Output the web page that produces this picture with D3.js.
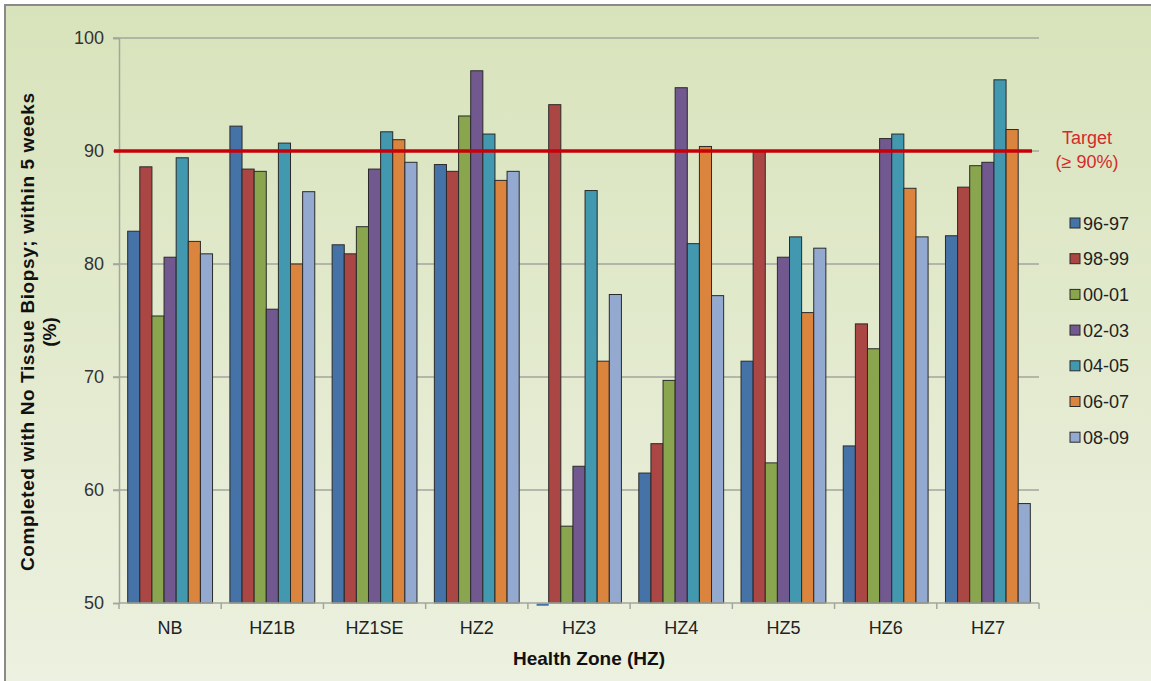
<!DOCTYPE html>
<html>
<head>
<meta charset="utf-8">
<script src="https://cdn.jsdelivr.net/npm/d3@7"></script>
<style>
  html, body { margin: 0; padding: 0; background: #ffffff; }
  svg { display: block; font-family: "Liberation Sans", Arial, sans-serif; }
</style>
</head>
<body>
<svg id="chart" width="1151" height="681"></svg>
<script>
// Health zones along the x axis
const zones = ["NB", "HZ1B", "HZ1SE", "HZ2", "HZ3", "HZ4", "HZ5", "HZ6", "HZ7"];

// Fiscal-year series (percent completed with no tissue biopsy within 5 weeks)
const periods = ["96-97", "98-99", "00-01", "02-03", "04-05", "06-07", "08-09"];
const fy9697 = [82.9, 92.2, 81.7, 88.8, 49.8, 61.5, 71.4, 63.9, 82.5];
const fy9899 = [88.6, 88.4, 80.9, 88.2, 94.1, 64.1, 90.0, 74.7, 86.8];
const fy0001 = [75.4, 88.2, 83.3, 93.1, 56.8, 69.7, 62.4, 72.5, 88.7];
const fy0203 = [80.6, 76.0, 88.4, 97.1, 62.1, 95.6, 80.6, 91.1, 89.0];
const fy0405 = [89.4, 90.7, 91.7, 91.5, 86.5, 81.8, 82.4, 91.5, 96.3];
const fy0607 = [82.0, 80.0, 91.0, 87.4, 71.4, 90.4, 75.7, 86.7, 91.9];
const fy0809 = [80.9, 86.4, 89.0, 88.2, 77.3, 77.2, 81.4, 82.4, 58.8];
const seriesValues = [fy9697, fy9899, fy0001, fy0203, fy0405, fy0607, fy0809];
const seriesColors = ["#4572A7", "#AA4643", "#89A54E", "#71588F", "#4198AF", "#DB843D", "#93A9CF"];

const yTicks = [50, 60, 70, 80, 90, 100];
const targetValue = 90;
const targetLabel = ["Target", "(\u2265 90%)"];
const yTitle = ["Completed with No Tissue Biopsy; within 5 weeks", "(%)"];
const xTitle = "Health Zone (HZ)";

const svg = d3.select("#chart");

// Background panel with soft vertical gradient
const defs = svg.append("defs");
const grad = defs.append("linearGradient").attr("id", "bg").attr("x1", 0).attr("y1", 0).attr("x2", 0).attr("y2", 1);
grad.append("stop").attr("offset", "0%").attr("stop-color", "#d8e3bb");
grad.append("stop").attr("offset", "100%").attr("stop-color", "#edf1e1");
svg.append("rect").attr("x", 5).attr("y", 5).attr("width", 1160).attr("height", 690)
  .attr("fill", "url(#bg)").attr("stroke", "#8a8a8a").attr("stroke-width", 2);

// Plot area
const plot = { left: 119, right: 1039, top: 38, bottom: 603 };

const y = d3.scaleLinear().domain([50, 100]).range([plot.bottom, plot.top]);
const x0 = d3.scaleBand().domain(zones).range([plot.left, plot.right])
  .paddingInner(0.17).paddingOuter(0.085);
const x1 = d3.scaleBand().domain(periods).range([0, x0.bandwidth()]);

// Horizontal gridlines
svg.append("g").selectAll("line").data(yTicks.filter(t => t > 50)).join("line")
  .attr("x1", plot.left - 6).attr("x2", plot.right)
  .attr("y1", d => y(d)).attr("y2", d => y(d))
  .attr("stroke", "#a3a69c").attr("stroke-width", 1.5);

// Y axis
const yAxis = svg.append("g").attr("transform", `translate(${plot.left},0)`)
  .call(d3.axisLeft(y).tickValues(yTicks).tickSize(6).tickPadding(9));
yAxis.select(".domain").attr("stroke", "#a3a69c").attr("stroke-width", 1.5);
yAxis.selectAll(".tick line").attr("stroke", "#a3a69c").attr("stroke-width", 1.5);
yAxis.selectAll(".tick text").attr("font-size", 18).attr("fill", "#333").attr("font-family", "Liberation Sans, Arial, sans-serif");

// Bars rising from the axis minimum
const groups = svg.append("g").selectAll("g").data(zones).join("g")
  .attr("transform", z => `translate(${x0(z)},0)`);
groups.selectAll("rect")
  .data((z, i) => periods.map((p, k) => ({ p, v: seriesValues[k][i], c: seriesColors[k] }))
    .filter(d => d.v >= 50))
  .join("rect")
  .attr("x", d => x1(d.p))
  .attr("width", x1.bandwidth())
  .attr("y", d => y(d.v))
  .attr("height", d => y(50) - y(d.v))
  .attr("fill", d => d.c)
  .attr("stroke", "#2a2a2a")
  .attr("stroke-width", 1);

// X axis baseline, boundary ticks and category labels
const step = x0.step();
const boundaries = zones.map(z => x0(z) - step * x0.paddingInner() / 2).concat([plot.right]);
svg.append("line").attr("x1", plot.left).attr("x2", plot.right)
  .attr("y1", plot.bottom).attr("y2", plot.bottom)
  .attr("stroke", "#a3a69c").attr("stroke-width", 1.5);
svg.append("g").selectAll("line").data(boundaries).join("line")
  .attr("x1", d => d).attr("x2", d => d)
  .attr("y1", plot.bottom).attr("y2", plot.bottom + 6)
  .attr("stroke", "#a3a69c").attr("stroke-width", 1.5);

const xAxis = svg.append("g").attr("transform", `translate(0,${plot.bottom})`)
  .call(d3.axisBottom(x0).tickSize(0).tickPadding(18));
xAxis.select(".domain").remove();
xAxis.selectAll(".tick text").attr("font-size", 18).attr("fill", "#222").attr("font-family", "Liberation Sans, Arial, sans-serif");

// Below-minimum bars hang just under the baseline, drawn over it
svg.append("g").selectAll("rect")
  .data(zones.flatMap((z, i) => periods.map((p, k) => ({ z, p, v: seriesValues[k][i], c: seriesColors[k] })))
    .filter(d => d.v < 50))
  .join("rect")
  .attr("x", d => x0(d.z) + x1(d.p))
  .attr("width", x1.bandwidth())
  .attr("y", y(50) + 0.75)
  .attr("height", d => Math.max(0, y(d.v) - y(50) - 0.75) + 0.5)
  .attr("fill", d => d.c);

// Target line
svg.append("line").attr("x1", plot.left - 5).attr("x2", plot.right - 7)
  .attr("y1", y(targetValue)).attr("y2", y(targetValue))
  .attr("stroke", "#c8000a").attr("stroke-width", 3.5);

svg.append("g").selectAll("text").data(targetLabel).join("text")
  .attr("x", 1087).attr("y", (d, i) => 144 + i * 24)
  .attr("text-anchor", "middle").attr("font-size", 18).attr("fill", "#d42a2a")
  .text(d => d);

// Legend
const legend = svg.append("g").selectAll("g").data(periods).join("g")
  .attr("transform", (d, i) => `translate(1070,${223 + i * 35.7})`);
legend.append("rect").attr("x", 0).attr("y", -5).attr("width", 10).attr("height", 10)
  .attr("fill", (d, i) => seriesColors[i]).attr("stroke", "#2a2a2a").attr("stroke-width", 1);
legend.append("text").attr("x", 13).attr("y", 6.5).attr("font-size", 18).attr("fill", "#222")
  .text(d => d);

// Axis titles
svg.append("text").attr("transform", "translate(34,332) rotate(-90)")
  .attr("text-anchor", "middle").attr("font-size", 19).attr("font-weight", "bold").attr("fill", "#111")
  .attr("textLength", 478).attr("lengthAdjust", "spacing")
  .text(yTitle[0]);
svg.append("text").attr("transform", "translate(56,332) rotate(-90)")
  .attr("text-anchor", "middle").attr("font-size", 19).attr("font-weight", "bold").attr("fill", "#111")
  .text(yTitle[1]);
svg.append("text").attr("x", 589).attr("y", 665)
  .attr("text-anchor", "middle").attr("font-size", 19).attr("font-weight", "bold").attr("fill", "#111")
  .text(xTitle);
</script>
</body>
</html>
